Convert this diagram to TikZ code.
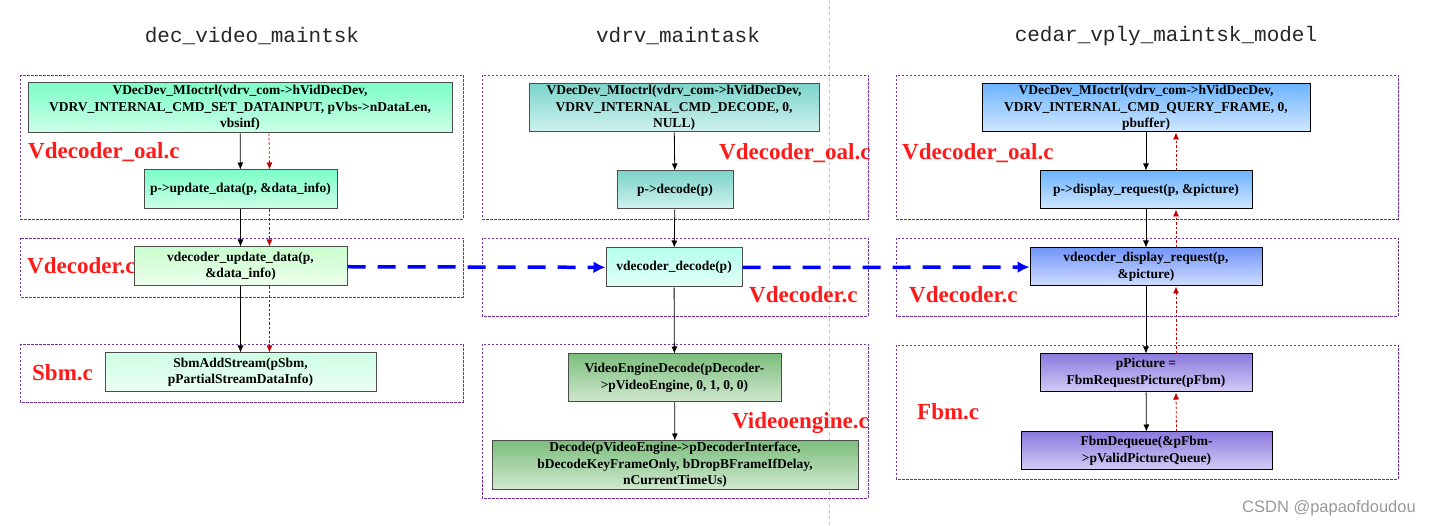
\documentclass[tikz,border=0pt]{standalone}
\usepackage{fontspec}
\setmainfont{Liberation Serif}
\newfontfamily\titlefont{Liberation Mono}
\newfontfamily\markfont{Liberation Sans}
\usetikzlibrary{arrows.meta}
\newcommand{\boxfont}{\fontsize{13.5}{16.5}\selectfont\bfseries}
\definecolor{grpline}{HTML}{7030A0}
\definecolor{srcred}{HTML}{FF1A1A}
\definecolor{retred}{HTML}{C00000}
\tikzstyle{callbox}=[draw=black!70,line width=1pt,shading=axis,font=\boxfont,align=center,inner sep=0pt]
\tikzstyle{group}=[draw=grpline,line width=.8pt,dash pattern=on 2.5pt off 1.5pt]
\tikzstyle{flow}=[-{Latex[length=7pt,width=6pt]},black,line width=.8pt]
\tikzstyle{retflow}=[-{Latex[length=7pt,width=6pt]},retred,line width=.8pt,dash pattern=on 2.5pt off 2pt]
\tikzstyle{taskflow}=[-{Latex[length=12pt,width=12pt]},blue,line width=3.5pt,dash pattern=on 18pt off 12pt]
\tikzstyle{srcname}=[srcred,font=\fontsize{23}{26}\selectfont\bfseries,inner sep=0pt,anchor=base west]
\tikzstyle{tasktitle}=[font=\titlefont\fontsize{21}{24}\selectfont,black!85]

\begin{document}
\begin{tikzpicture}[x=1pt,y=-1pt]
	\useasboundingbox (0,0) rectangle (1433,526);

	%thread split
	\draw[black!25,dashed] (829,0) -- (829,526);

	%task titles
	\node[tasktitle] (t1) at (252,36) {dec\_video\_maintsk};
	\node[tasktitle] (t2) at (678,36) {vdrv\_maintask};
	\node[tasktitle] (t3) at (1166,36) {cedar\_vply\_maintsk\_model};

	%file groups
	\draw[group] (20,75) rectangle (463,219);
	\draw[group] (20,238) rectangle (463,297);
	\draw[group] (20,344) rectangle (463,402);
	\draw[group] (482,75) rectangle (868,219);
	\draw[group] (482,238) rectangle (868,316);
	\draw[group] (482,344) rectangle (868,498);
	\draw[group] (896,75) rectangle (1398,219);
	\draw[group] (896,238) rectangle (1398,316);
	\draw[group] (896,345) rectangle (1398,479);

	%file names
	\node[srcname] (s11) at (28,159) {Vdecoder\_oal.c};
	\node[srcname] (s12) at (27,274) {Vdecoder.c};
	\node[srcname] (s13) at (32,381) {Sbm.c};
	\node[srcname] (s21) at (719,160) {Vdecoder\_oal.c};
	\node[srcname] (s22) at (749,303) {Vdecoder.c};
	\node[srcname] (s23) at (732,429) {Videoengine.c};
	\node[srcname] (s31) at (902,160) {Vdecoder\_oal.c};
	\node[srcname] (s32) at (909,303) {Vdecoder.c};
	\node[srcname] (s33) at (917,420) {Fbm.c};

	%dec_video_maintsk calls
	\node[callbox,top color={rgb,255:red,125;green,255;blue,200},bottom color={rgb,255:red,205;green,255;blue,232},
		minimum width=424,minimum height=50] (a1) at (240,108)
		{VDecDev\_MIoctrl(vdrv\_com->hVidDecDev,\\VDRV\_INTERNAL\_CMD\_SET\_DATAINPUT, pVbs->nDataLen,\\vbsinf)};
	\node[callbox,top color={rgb,255:red,125;green,255;blue,200},bottom color={rgb,255:red,205;green,255;blue,232},
		minimum width=193,minimum height=39] (a2) at (240.5,189.5) {p->update\_data(p, \&data\_info)};
	\node[callbox,top color={rgb,255:red,200;green,255;blue,205},bottom color={rgb,255:red,238;green,255;blue,238},
		minimum width=213,minimum height=39] (a3) at (240.5,266.5) {vdecoder\_update\_data(p,\\\&data\_info)};
	\node[callbox,top color={rgb,255:red,205;green,255;blue,228},bottom color={rgb,255:red,238;green,255;blue,246},
		minimum width=271,minimum height=39] (a4) at (240.5,372.5) {SbmAddStream(pSbm,\\pPartialStreamDataInfo)};

	%vdrv_maintask calls
	\node[callbox,top color={rgb,255:red,125;green,212;blue,202},bottom color={rgb,255:red,208;green,242;blue,238},
		minimum width=290,minimum height=48] (b1) at (674,108)
		{VDecDev\_MIoctrl(vdrv\_com->hVidDecDev,\\VDRV\_INTERNAL\_CMD\_DECODE, 0,\\NULL)};
	\node[callbox,top color={rgb,255:red,125;green,212;blue,202},bottom color={rgb,255:red,208;green,242;blue,238},
		minimum width=116,minimum height=38] (b2) at (675,190) {p->decode(p)};
	\node[callbox,top color={rgb,255:red,180;green,255;blue,238},bottom color={rgb,255:red,228;green,255;blue,246},
		minimum width=136,minimum height=39] (b3) at (674,267.5) {vdecoder\_decode(p)};
	\node[callbox,top color={rgb,255:red,125;green,190;blue,125},bottom color={rgb,255:red,208;green,232;blue,208},
		minimum width=213,minimum height=48] (b4) at (674.5,378) {VideoEngineDecode(pDecoder-\\>pVideoEngine, 0, 1, 0, 0)};
	\node[callbox,top color={rgb,255:red,125;green,190;blue,125},bottom color={rgb,255:red,208;green,232;blue,208},
		minimum width=366,minimum height=48] (b5) at (675,465)
		{Decode(pVideoEngine->pDecoderInterface,\\bDecodeKeyFrameOnly, bDropBFrameIfDelay,\\nCurrentTimeUs)};

	%cedar_vply_maintsk_model calls
	\node[callbox,draw=black,top color={rgb,255:red,110;green,180;blue,255},bottom color={rgb,255:red,208;green,232;blue,255},
		minimum width=328,minimum height=48] (c1) at (1146,108)
		{VDecDev\_MIoctrl(vdrv\_com->hVidDecDev,\\VDRV\_INTERNAL\_CMD\_QUERY\_FRAME, 0,\\pbuffer)};
	\node[callbox,draw=black,top color={rgb,255:red,110;green,180;blue,255},bottom color={rgb,255:red,208;green,232;blue,255},
		minimum width=212,minimum height=38] (c2) at (1146,190) {p->display\_request(p, \&picture)};
	\node[callbox,draw=black,top color={rgb,255:red,115;green,150;blue,250},bottom color={rgb,255:red,208;green,222;blue,255},
		minimum width=232,minimum height=38] (c3) at (1146,267) {vdeocder\_display\_request(p,\\\&picture)};
	\node[callbox,draw=black,top color={rgb,255:red,140;green,122;blue,222},bottom color={rgb,255:red,212;green,204;blue,246},
		minimum width=212,minimum height=38] (c4) at (1146,373) {pPicture =\\FbmRequestPicture(pFbm)};
	\node[callbox,draw=black,top color={rgb,255:red,140;green,122;blue,222},bottom color={rgb,255:red,212;green,204;blue,246},
		minimum width=251,minimum height=38] (c5) at (1146.5,451) {FbmDequeue(\&pFbm-\\>pValidPictureQueue)};

	%calls down
	\draw[flow] (a1) -- (a2);
	\draw[flow] (a2) -- (a3);
	\draw[flow] (a3) -- (a4);
	\draw[flow] (b1) -- (b2);
	\draw[flow] (b2) -- (b3);
	\draw[flow] (b3) -- (b4);
	\draw[flow] (b4) -- (b5);
	\draw[flow] (c1) -- (c2);
	\draw[flow] (c2) -- (c3);
	\draw[flow] (c3) -- (c4);
	\draw[flow] (c4) -- (c5);

	%data path
	\draw[retflow] ([xshift=29pt]a1.south) -- ([xshift=29pt]a2.north);
	\draw[retflow] ([xshift=29pt]a2.south) -- ([xshift=29pt]a3.north);
	\draw[retflow] ([xshift=29pt]a3.south) -- ([xshift=29pt]a4.north);
	\draw[retflow] ([xshift=30pt]c2.north) -- ([xshift=30pt]c1.south);
	\draw[retflow] ([xshift=30pt]c3.north) -- ([xshift=30pt]c2.south);
	\draw[retflow] ([xshift=30pt]c4.north) -- ([xshift=30pt]c3.south);
	\draw[retflow] ([xshift=30pt]c5.north) -- ([xshift=30pt]c4.south);

	%between tasks
	\draw[taskflow] (a3) -- (b3);
	\draw[taskflow] (b3) -- (c3);

	\node[font=\markfont\fontsize{16.5}{19}\selectfont,black!40] (wm) at (1329,508) {CSDN @papaofdoudou};
\end{tikzpicture}
\end{document}
